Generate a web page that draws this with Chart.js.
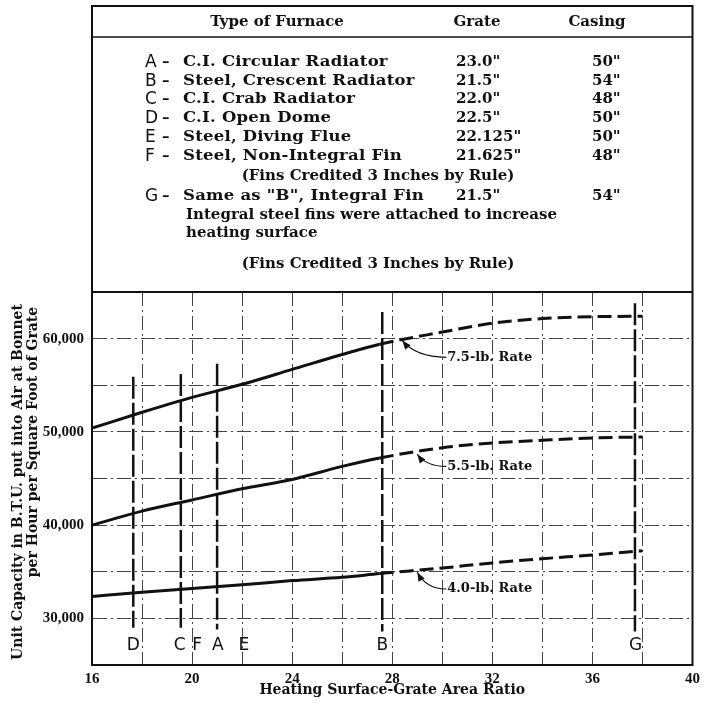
<!DOCTYPE html>
<html><head><meta charset="utf-8">
<script src="https://cdn.jsdelivr.net/npm/chart.js@4/dist/chart.umd.min.js"></script>
<style>
html,body{margin:0;padding:0;background:#fff;}
#wrap{position:relative;width:705px;height:705px;overflow:hidden;}
canvas{position:absolute;left:0;top:0;}
.t{position:absolute;font-family:'DejaVu Serif';font-weight:bold;font-size:15px;line-height:18px;white-space:nowrap;color:#111;}
.w{transform:scaleX(1.1);transform-origin:0 50%;letter-spacing:0.2px;}
.L{position:absolute;font-family:'DejaVu Sans';font-size:17px;line-height:18px;color:#111;}
</style></head>
<body><div id="wrap"><canvas id="c" width="705" height="705"></canvas><div id="tbl"></div></div>
<script>
// ---- data ----
const xRatio = [16, 18, 20, 22, 24, 26, 27.5, 30, 32, 34, 36, 38];
const rate75 = [50400, 52100, 53700, 55100, 56700, 58300, 59400, 60700, 61650, 62150, 62350, 62400];
const rate55 = [40000, 41500, 42700, 43900, 44900, 46300, 47200, 48300, 48800, 49100, 49350, 49450];
const rate40 = [32350, 32800, 33200, 33600, 34050, 34400, 34800, 35400, 35950, 36400, 36800, 37250];
const splitX = 27.5; // solid up to here, dashed beyond
const rateNames = ['7.5-lb. Rate', '5.5-lb. Rate', '4.0-lb. Rate'];
const rateLabelX = [30.2, 30.2, 30.2];
const rateLabelY = [58000, 46300, 33150];
const rateTipX = [28.4, 29.0, 29.0];
const rateTipY = [59800, 47600, 34950];

const markerX = [17.65, 19.55, 21.0, 27.6, 37.7];
const markerTop = [55900, 56200, 57300, 62850, 63800];
const markerBottom = [29000, 29000, 28800, 28600, 28600];
const letterNames = ['D', 'C', 'F', 'A', 'E', 'B', 'G'];
const letterX = [17.65, 19.5, 20.2, 21.03, 22.07, 27.6, 37.73];
const letterY = 27100;

const xTickValues = [16, 20, 24, 28, 32, 36, 40];
const xTickLabels = ['16', '20', '24', '28', '32', '36', '40'];
const yTickValues = [30000, 40000, 50000, 60000];
const yTickLabels = ['30,000', '40,000', '50,000', '60,000'];
const xTitle = 'Heating Surface-Grate Area Ratio';
const yTitle = ['Unit Capacity in B.T.U. put into Air at Bonnet', 'per Hour per Square Foot of Grate'];

const tableHeader = ['Type of Furnace', 'Grate', 'Casing'];
const furnaceLetters = ['A', 'B', 'C', 'D', 'E', 'F', 'G'];
const furnaceTypes = ['C.I. Circular Radiator', 'Steel, Crescent Radiator', 'C.I. Crab Radiator', 'C.I. Open Dome', 'Steel, Diving Flue', 'Steel, Non-Integral Fin', 'Same as "B", Integral Fin'];
const furnaceGrate = ['23.0"', '21.5"', '22.0"', '22.5"', '22.125"', '21.625"', '21.5"'];
const furnaceCasing = ['50"', '54"', '48"', '50"', '50"', '48"', '54"'];
const finsNote = '(Fins Credited 3 Inches by Rule)';
const gNote = ['Integral steel fins were attached to increase', 'heating surface'];

// ---- table (HTML text) ----
const tbl = document.getElementById('tbl');
function put(cls, text, left, cy, center) {
  const d = document.createElement('div');
  d.className = cls;
  d.textContent = text;
  d.style.top = (cy - 9) + 'px';
  d.style.left = left + 'px';
  if (center) d.style.transform = 'translateX(-50%)';
  tbl.appendChild(d);
}
put('t', tableHeader[0], 277, 21, true);
put('t', tableHeader[1], 477, 21, true);
put('t', tableHeader[2], 597, 21, true);
const rowY = [61, 80, 98, 117, 136, 155, 195];
furnaceLetters.forEach((L, i) => {
  put('L', L, 145, rowY[i], false);
  put('t', '\u2013', 162, rowY[i], false);
  put('t w', furnaceTypes[i], 183, rowY[i], false);
  put('t', furnaceGrate[i], 456, rowY[i], false);
  put('t', furnaceCasing[i], 592, rowY[i], false);
});
put('t', finsNote, 378, 175, true);
put('t', gNote[0], 186, 214, false);
put('t', gNote[1], 186, 232, false);
put('t', finsNote, 378, 263, true);

// ---- overlay plugin ----
const overlay = {
  id: 'overlay',
  afterDraw(chart) {
    const { ctx, chartArea: a, scales: { x, y } } = chart;
    ctx.save();
    ctx.strokeStyle = '#111';
    ctx.lineWidth = 2;
    ctx.strokeRect(a.left, 6, a.right - a.left, a.bottom - 6);
    ctx.beginPath(); ctx.moveTo(a.left, a.top); ctx.lineTo(a.right, a.top); ctx.stroke();
    ctx.lineWidth = 1.5;
    ctx.beginPath(); ctx.moveTo(a.left, 37); ctx.lineTo(a.right, 37); ctx.stroke();

    // marker letters
    ctx.fillStyle = '#111';
    ctx.font = '17px "DejaVu Sans"';
    ctx.textAlign = 'center'; ctx.textBaseline = 'middle';
    letterNames.forEach((L, i) => ctx.fillText(L, x.getPixelForValue(letterX[i]), y.getPixelForValue(letterY)));

    // rate labels with arrows
    ctx.font = 'bold 13px "DejaVu Serif"';
    ctx.textAlign = 'left';
    rateNames.forEach((n, i) => {
      const tx = x.getPixelForValue(rateLabelX[i]), ty = y.getPixelForValue(rateLabelY[i]);
      const px = x.getPixelForValue(rateTipX[i]), py = y.getPixelForValue(rateTipY[i]);
      ctx.fillText(n, tx, ty);
      const cx = px + (tx - px) * 0.3, cy = ty;
      ctx.lineWidth = 1.2;
      ctx.beginPath(); ctx.moveTo(tx - 1, ty); ctx.quadraticCurveTo(cx, cy, px, py); ctx.stroke();
      const ang = Math.atan2(py - cy, px - cx);
      ctx.beginPath();
      ctx.moveTo(px, py);
      ctx.lineTo(px - 9 * Math.cos(ang) + 3.5 * Math.sin(ang), py - 9 * Math.sin(ang) - 3.5 * Math.cos(ang));
      ctx.lineTo(px - 9 * Math.cos(ang) - 3.5 * Math.sin(ang), py - 9 * Math.sin(ang) + 3.5 * Math.cos(ang));
      ctx.closePath(); ctx.fill();
    });

    // y axis title (two lines, rotated)
    ctx.font = 'bold 14px "DejaVu Serif"';
    ctx.textAlign = 'center';
    [[18, 482], [33, 442]].forEach((p, i) => {
      ctx.save(); ctx.translate(p[0], p[1]); ctx.rotate(-Math.PI / 2);
      ctx.fillText(yTitle[i], 0, 0); ctx.restore();
    });
    ctx.restore();
  }
};

function pts(arr) { return xRatio.map((v, i) => ({ x: v, y: arr[i] })); }
const rateSets = [rate75, rate55, rate40].map((arr, i) => ({
  label: rateNames[i], data: pts(arr), borderColor: '#111', borderWidth: 3, pointRadius: 0,
  cubicInterpolationMode: 'monotone', fill: false,
  segment: { borderDash: c => (c.p0.parsed.x >= splitX ? [14, 6] : []) }
}));
const markerSets = markerX.map((mx, i) => ({
  label: 'marker', data: [{ x: mx, y: markerTop[i] }, { x: mx, y: markerBottom[i] }],
  borderColor: '#111', borderWidth: 2.5, borderDash: [22, 4], pointRadius: 0, fill: false
}));

const axisFont = { family: 'Liberation Serif', weight: 'bold', size: 15 };
new Chart(document.getElementById('c'), {
  type: 'line',
  data: { datasets: rateSets.concat(markerSets) },
  options: {
    responsive: false, animation: false, devicePixelRatio: 1,
    layout: { padding: { top: 292, right: 12, left: 0, bottom: 0 } },
    plugins: { legend: { display: false }, tooltip: { enabled: false } },
    scales: {
      x: {
        type: 'linear', min: 16, max: 40,
        afterFit(s) { s.height = 40; },
        ticks: { stepSize: 2, autoSkip: false, maxRotation: 0, padding: 5, color: '#111', font: axisFont,
          callback: v => { const k = xTickValues.indexOf(v); return k >= 0 ? xTickLabels[k] : ''; } },
        grid: { color: '#444', lineWidth: 1, drawTicks: false },
        border: { display: true, color: '#111', width: 2, dash: [14, 4, 2, 4] },
        title: { display: true, text: xTitle, color: '#111', font: { family: 'DejaVu Serif', weight: 'bold', size: 14 }, padding: { top: 0, bottom: 6 } }
      },
      y: {
        type: 'linear', min: 25000, max: 65000,
        afterFit(s) { s.width = 92; },
        ticks: { stepSize: 5000, autoSkip: false, padding: 8, color: '#111', font: axisFont,
          callback: v => { const k = yTickValues.indexOf(v); return k >= 0 ? yTickLabels[k] : ''; } },
        grid: { color: '#444', lineWidth: 1, drawTicks: false },
        border: { display: true, color: '#111', width: 2, dash: [14, 4, 2, 4] }
      }
    }
  },
  plugins: [overlay]
});
</script>
</body></html>
